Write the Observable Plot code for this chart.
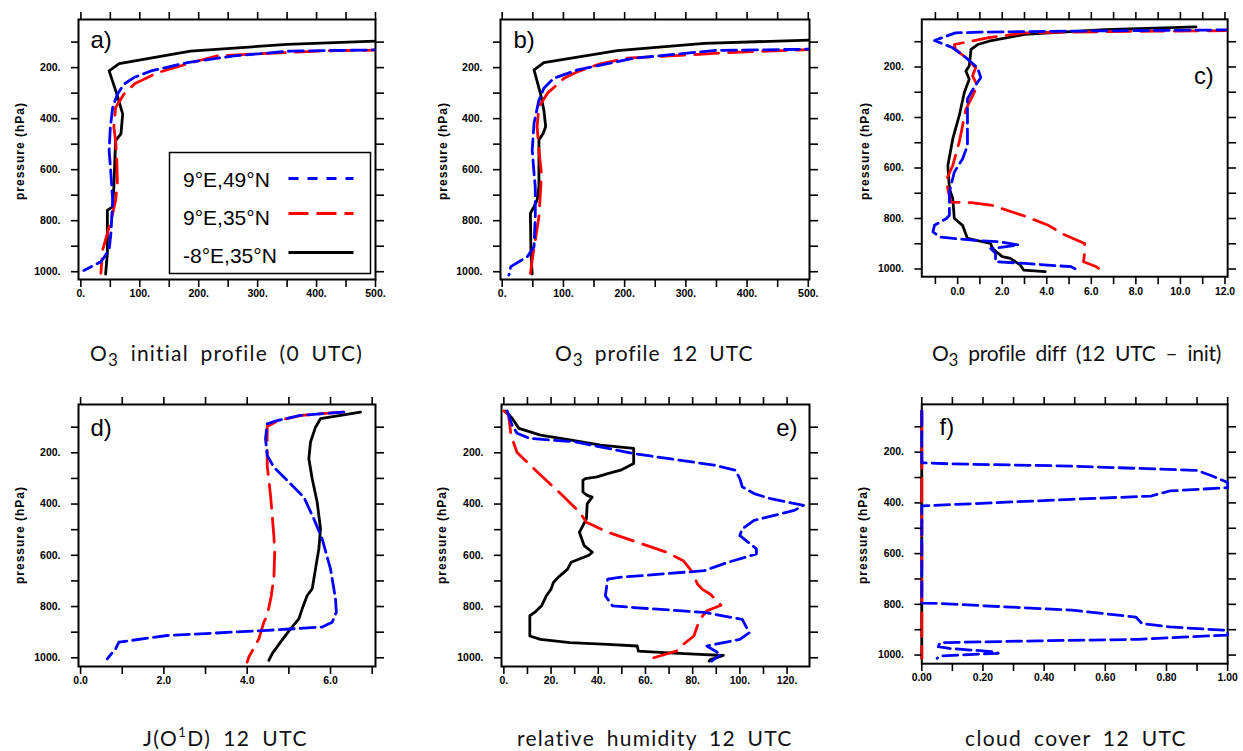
<!DOCTYPE html>
<html><head><meta charset="utf-8">
<script src="https://cdn.jsdelivr.net/npm/d3@7"></script>
<script src="https://cdn.jsdelivr.net/npm/@observablehq/plot@0.6"></script>
<style>
body{margin:0;background:#fff;}
#fig{position:relative;width:1243px;height:751px;overflow:hidden;background:#fff;}
.panel{position:absolute;}
</style></head>
<body><div id="fig"></div>
<script>
// ---------------- data ----------------
const seriesNames = ["9°E,49°N", "9°E,35°N", "-8°E,35°N"];
const seriesColors = ["#0000ff", "#ff0000", "#000000"];

// a) O3 initial profile (0 UTC)
const aBlueP = [130, 133, 135, 154, 180, 213, 239, 265, 304, 356, 434, 525, 616, 720, 850, 915, 961, 995];
const aBlueV = [520, 420, 356, 260, 181, 119, 90, 73, 62, 54, 50, 48, 51, 54, 51, 48, 34, 5];
const aRedP = [131, 134, 146, 154, 174, 220, 262, 304, 356, 434, 486, 564, 655, 720, 772, 850, 915, 1006];
const aRedV = [520, 420, 300, 232, 198, 130, 92, 73, 59, 56, 59, 61, 62, 59, 54, 45, 37, 34];
const aBlackP = [94, 96, 109, 135, 184, 213, 311, 382, 460, 486, 668, 746, 759, 928, 1009];
const aBlackV = [520, 500, 350, 186, 65, 48, 62, 71, 68, 59, 56, 54, 45, 45, 42];

// b) O3 profile 12 UTC
const bBlueP = [127, 133, 163, 209, 242, 281, 327, 418, 523, 614, 667, 784, 902, 941, 980, 1013];
const bBlueV = [520, 346, 215, 123, 84, 68, 60, 52, 49, 52, 54, 54, 52, 41, 14, 11];
const bRedP = [128, 140, 152, 163, 185, 216, 242, 300, 353, 431, 523, 614, 667, 784, 876, 954, 1009];
const bRedV = [520, 380, 290, 204, 160, 123, 101, 74, 60, 57, 60, 64, 63, 60, 54, 49, 46];
const bBlackP = [90, 92, 105, 133, 180, 209, 307, 366, 431, 457, 484, 667, 719, 745, 771, 928, 1009];
const bBlackV = [520, 502, 330, 188, 68, 52, 63, 68, 71, 67, 60, 60, 57, 52, 46, 47, 49];

// c) O3 profile diff (12 UTC - init)
const cBlueP = [53, 56, 59, 62, 65, 95, 124, 163, 203, 242, 281, 327, 459, 511, 564, 616, 695, 787, 800, 827, 853, 873, 886, 892, 905, 919, 938, 971, 978, 991, 1010];
const cBlueV = [12.3, 8.0, 4.0, 1.0, -0.1, -1.04, -0.22, 0.37, 0.89, 1.04, 0.74, 0.44, 0.44, 0.44, 0.22, -0.15, -0.37, -0.37, -0.5, -1.04, -1.11, -0.81, 0.67, 1.85, 2.74, 1.48, 1.7, 1.7, 3.04, 5.1, 5.48];
const cRedP = [56, 58, 62, 65, 84, 111, 130, 163, 203, 235, 275, 314, 367, 433, 498, 590, 649, 700, 735, 737, 748, 790, 827, 859, 899, 935, 971, 990, 1004, 1010];
const cRedV = [12.3, 9.0, 5.0, 3.0, 1.4, -0.15, -0.1, 0.37, 0.81, 0.67, 0.89, 0.67, 0.37, 0.22, 0.07, -0.22, -0.52, -0.4, -0.3, 0.6, 1.56, 3.0, 4.07, 4.67, 5.7, 5.7, 5.65, 6.2, 6.44, 6.55];
const cBlackP = [41, 52, 71, 98, 111, 130, 196, 216, 249, 301, 393, 485, 590, 682, 721, 800, 827, 879, 899, 919, 951, 958, 984, 1004, 1010];
const cBlackV = [10.7, 6.6, 3.0, 1.4, 0.9, 0.6, 0.52, 0.37, 0.52, 0.3, 0.07, -0.22, -0.44, -0.37, -0.22, -0.15, 0.22, 0.44, 1.48, 1.56, 2.0, 2.37, 2.81, 2.96, 3.93];

// d) J(O1D) 12 UTC
const dBlueP = [41, 54, 74, 87, 145, 210, 256, 321, 373, 458, 536, 653, 770, 822, 861, 880, 893, 913, 939, 965, 1004];
const dBlueV = [6.32, 5.28, 4.72, 4.48, 4.44, 4.48, 4.64, 5.04, 5.36, 5.6, 5.8, 6.0, 6.12, 6.14, 6.04, 5.8, 4.48, 2.08, 0.92, 0.84, 0.64];
const dRedP = [41, 54, 74, 97, 249, 366, 445, 523, 588, 692, 731, 757, 835, 861, 926, 997, 1017];
const dRedV = [6.3, 5.3, 4.75, 4.48, 4.48, 4.56, 4.6, 4.64, 4.66, 4.64, 4.6, 4.58, 4.48, 4.4, 4.28, 4.04, 4.0];
const dBlackP = [41, 67, 100, 158, 223, 301, 393, 497, 575, 653, 731, 757, 809, 848, 887, 939, 984, 1010];
const dBlackV = [6.72, 5.76, 5.64, 5.52, 5.48, 5.56, 5.68, 5.76, 5.72, 5.64, 5.56, 5.44, 5.32, 5.24, 5.04, 4.8, 4.6, 4.52];

// e) relative humidity 12 UTC
const eBlueP = [37, 92, 124, 144, 157, 203, 248, 268, 301, 333, 359, 379, 405, 425, 464, 497, 523, 575, 595, 627, 660, 686, 693, 758, 797, 804, 823, 850, 902, 928, 954, 987, 1013];
const eBlueV = [1.4, 3.5, 5.6, 11, 30, 55, 89, 98, 100, 101, 106, 113, 127, 123, 106, 101, 100, 107, 107, 95, 85, 49, 44, 43, 46, 55, 85, 101, 104, 100, 86, 92, 88];
const eRedP = [37, 52, 131, 199, 268, 359, 431, 471, 510, 549, 588, 621, 667, 712, 732, 752, 795, 817, 850, 915, 948, 974, 993, 1007];
const eRedV = [0, 2, 3, 5.6, 13.4, 24, 32, 35, 44, 56.5, 69, 76, 80, 82, 84, 87.5, 92, 86, 83, 80.5, 76, 73, 66, 61];
const eBlackP = [37, 65, 105, 131, 150, 170, 183, 242, 268, 281, 294, 301, 307, 353, 366, 373, 399, 457, 484, 510, 562, 588, 600, 627, 654, 686, 706, 732, 758, 797, 823, 836, 915, 928, 941, 948, 954, 974, 980, 987, 991, 1007, 1013];
const eBlackV = [0.7, 3.5, 6.4, 15.5, 28, 41, 55, 55, 49.5, 44, 39.5, 34.5, 33.5, 33.5, 35.3, 37.4, 35.3, 35, 33.5, 32, 34, 37.5, 36, 28.5, 27, 23, 21, 20, 18, 16, 13, 11, 11, 15.5, 28, 44, 56.5, 57, 68, 83, 93, 87.5, 87];

// f) cloud cover 12 UTC
const fBlueP = [37, 242, 246, 255, 272, 294, 320, 340, 353, 373, 386, 403, 412, 795, 797, 823, 850, 876, 889, 902, 908, 921, 938, 944, 951, 967, 974, 987, 993, 1004, 1013];
const fBlueV = [0, 0, 0.09, 0.49, 0.9, 0.95, 1.0, 1.0, 0.81, 0.75, 0.49, 0.17, 0, 0, 0.06, 0.49, 0.7, 0.72, 0.81, 0.99, 1.0, 1.0, 0.71, 0.38, 0.06, 0.054, 0.09, 0.24, 0.25, 0.06, 0.05];
const fRedP = [37, 200, 400, 600, 800, 1013];
const fRedV = [0, 0, 0, 0, 0, 0];
const fBlackP = [37, 200, 400, 600, 800, 1013];
const fBlackV = [0, 0, 0, 0, 0, 0];

// ticks and tick labels
const yTicks = [100, 200, 300, 400, 500, 600, 700, 800, 900, 1000];
const yLabelVals = [200, 400, 600, 800, 1000];
const yLabelText = ["200.", "400.", "600.", "800.", "1000."];
const abTicks = [0, 50, 100, 150, 200, 250, 300, 350, 400, 450, 500];
const abLabelVals = [0, 100, 200, 300, 400, 500];
const abLabelText = ["0.", "100.", "200.", "300.", "400.", "500."];
const cTicks = [-1, 0, 1, 2, 3, 4, 5, 6, 7, 8, 9, 10, 11, 12];
const cLabelVals = [0, 2, 4, 6, 8, 10, 12];
const cLabelText = ["0.0", "2.0", "4.0", "6.0", "8.0", "10.0", "12.0"];
const dTicks = [0, 1, 2, 3, 4, 5, 6, 7];
const dLabelVals = [0, 2, 4, 6];
const dLabelText = ["0.0", "2.0", "4.0", "6.0"];
const eTicks = [0, 10, 20, 30, 40, 50, 60, 70, 80, 90, 100, 110, 120];
const eLabelVals = [0, 20, 40, 60, 80, 100, 120];
const eLabelText = ["0.", "20.", "40.", "60.", "80.", "100.", "120."];
const fTicks = [0, 0.1, 0.2, 0.3, 0.4, 0.5, 0.6, 0.7, 0.8, 0.9, 1.0];
const fLabelVals = [0, 0.2, 0.4, 0.6, 0.8, 1.0];
const fLabelText = ["0.00", "0.20", "0.40", "0.60", "0.80", "1.00"];

const yAxisLabel = "pressure (hPa)";

// ---------------- drawing ----------------
const BLUE_DASH = "15,6", RED_DASH = "24,10";
const fig = document.getElementById("fig");
const ML = 70, MR = 16, MT = 14, MB = 28;

function mkSeries(bp, bv, rp, rv, kp, kv) {
  return [
    {p: kp, v: kv, color: seriesColors[2], dash: null},
    {p: rp, v: rv, color: seriesColors[1], dash: RED_DASH},
    {p: bp, v: bv, color: seriesColors[0], dash: BLUE_DASH}
  ];
}

function panel(cfg) {
  const W = cfg.w + ML + MR, H = cfg.h + MT + MB;
  const marks = [Plot.frame({stroke: "black", strokeWidth: 2})];
  cfg.series.forEach(s => {
    const data = s.p.map((p, i) => ({p, v: s.v[i]}));
    const o = {x: "v", y: "p", stroke: s.color, strokeWidth: 2.8, clip: cfg.clip};
    if (s.dash) o.strokeDasharray = s.dash;
    marks.push(Plot.line(data, o));
  });
  const xfmt = d => { const i = cfg.lv.findIndex(l => Math.abs(l - d) < 1e-9); return i >= 0 ? cfg.lt[i] : ""; };
  const yfmt = d => { const i = yLabelVals.indexOf(d); return i >= 0 ? yLabelText[i] : ""; };
  const right = cfg.tagAnchor.endsWith("right");
  marks.push(
    Plot.axisX({anchor: "bottom", ticks: cfg.ticks, tickFormat: xfmt, tickSize: 8, tickPadding: 2.5, label: null, strokeWidth: 1.6}),
    Plot.axisX({anchor: "top", ticks: cfg.ticks, tickFormat: () => "", tickSize: 8, label: null, strokeWidth: 1.6}),
    Plot.axisY({anchor: "left", ticks: yTicks, tickFormat: yfmt, tickSize: 7, tickPadding: 11, label: null, strokeWidth: 1.6}),
    Plot.axisY({anchor: "right", ticks: yTicks, tickFormat: () => "", tickSize: 8, label: null, strokeWidth: 1.6}),
    Plot.text([cfg.tag], {text: d => d, frameAnchor: cfg.tagAnchor, dx: cfg.tagDx, dy: cfg.tagDy,
      fontSize: 24, fontWeight: "normal", lineAnchor: "top", textAnchor: right ? "end" : "start"})
  );
  const svg = Plot.plot({
    width: W, height: H, marginLeft: ML, marginRight: MR, marginTop: MT, marginBottom: MB,
    x: {domain: cfg.xDomain}, y: {domain: cfg.yDomain, reverse: true},
    style: {fontFamily: '"Liberation Sans", Arial, sans-serif', fontSize: "10.5px", fontWeight: "bold", background: "transparent", overflow: "visible", color: "black"},
    marks
  });
  const div = document.createElement("div");
  div.className = "panel";
  div.style.left = (cfg.left - ML) + "px";
  div.style.top = (cfg.top - MT) + "px";
  div.appendChild(svg);
  fig.appendChild(div);
}

const topY = [11.4, 1030.5], botY = [11.5, 1034];

panel({left: 78, top: 19, w: 297, h: 260, xDomain: [-4, 500], yDomain: topY, ticks: abTicks, lv: abLabelVals, lt: abLabelText,
  series: mkSeries(aBlueP, aBlueV, aRedP, aRedV, aBlackP, aBlackV), clip: true, tag: "a)", tagAnchor: "top-left", tagDx: 12, tagDy: 11});
panel({left: 500, top: 19, w: 309, h: 260, xDomain: [-2.8, 502], yDomain: topY, ticks: abTicks, lv: abLabelVals, lt: abLabelText,
  series: mkSeries(bBlueP, bBlueV, bRedP, bRedV, bBlackP, bBlackV), clip: true, tag: "b)", tagAnchor: "top-left", tagDx: 13, tagDy: 11});
panel({left: 922, top: 19, w: 309, h: 260, xDomain: [-1.61, 12.12], yDomain: topY, ticks: cTicks, lv: cLabelVals, lt: cLabelText,
  series: mkSeries(cBlueP, cBlueV, cRedP, cRedV, cBlackP, cBlackV), clip: true, tag: "c)", tagAnchor: "top-right", tagDx: -14, tagDy: 48});
panel({left: 78, top: 404, w: 297, h: 262, xDomain: [-0.05, 7.08], yDomain: botY, ticks: dTicks, lv: dLabelVals, lt: dLabelText,
  series: mkSeries(dBlueP, dBlueV, dRedP, dRedV, dBlackP, dBlackV), clip: false, tag: "d)", tagAnchor: "top-left", tagDx: 12, tagDy: 14});
panel({left: 501, top: 404, w: 308, h: 262, xDomain: [-1.0, 129.5], yDomain: botY, ticks: eTicks, lv: eLabelVals, lt: eLabelText,
  series: mkSeries(eBlueP, eBlueV, eRedP, eRedV, eBlackP, eBlackV), clip: false, tag: "e)", tagAnchor: "top-right", tagDx: -12, tagDy: 14});
panel({left: 922, top: 404, w: 309, h: 262, xDomain: [0, 1], yDomain: botY, ticks: fTicks, lv: fLabelVals, lt: fLabelText,
  series: mkSeries(fBlueP, fBlueV, fRedP, fRedV, fBlackP, fBlackV), clip: false, tag: "f)", tagAnchor: "top-left", tagDx: 18, tagDy: 14});

// ---------------- overlay: titles, y labels, legend ----------------
const ov = d3.select("#fig").append("svg")
  .attr("width", 1243).attr("height", 751)
  .style("position", "absolute").style("left", "0px").style("top", "0px")
  .style("overflow", "visible");

const TITLE_FONT = 'Lato, "Noto Sans", "Liberation Sans", sans-serif';
const titles = [
  {parts: [["O", 0], ["3", 1], [" initial profile (0 UTC)", 0]], x: 90, y: 361, w: 273},
  {parts: [["O", 0], ["3", 1], [" profile 12 UTC", 0]], x: 555, y: 361, w: 198},
  {parts: [["O", 0], ["3", 1], [" profile diff (12 UTC \u2013 init)", 0]], x: 932, y: 361, w: 288},
  {parts: [["J(O", 0], ["1", -1], ["D) 12 UTC", 0]], x: 143, y: 746, w: 165},
  {parts: [["relative humidity 12 UTC", 0]], x: 517, y: 746, w: 276},
  {parts: [["cloud cover 12 UTC", 0]], x: 965, y: 746, w: 222}
];
titles.forEach(t => {
  const txt = ov.append("text").attr("x", t.x).attr("y", t.y)
    .style("font-family", TITLE_FONT).style("font-size", "21px").attr("fill", "#111")
    .style("word-spacing", "5px");
  let shift = 0;
  t.parts.forEach(([s, k]) => {
    const sp = txt.append("tspan").text(s);
    if (k === 1) { sp.attr("dy", 5).style("font-size", "17px"); shift = 5; }
    else if (k === -1) { sp.attr("dy", -9).style("font-size", "13px"); shift = -9; }
    else if (shift !== 0) { sp.attr("dy", -shift); shift = 0; }
  });
  const full = t.parts.map(p => p[0]).join("");
  const w0 = txt.node().getBBox().width;
  const ls = (t.w - w0) / full.length;
  txt.style("letter-spacing", ls + "px");
});

// y-axis labels
[[20, 151], [443, 151], [865, 151], [20, 535], [442, 535], [863, 535]].forEach(([x, y]) => {
  ov.append("text").attr("transform", `translate(${x},${y}) rotate(-90)`)
    .attr("text-anchor", "middle").attr("dominant-baseline", "central")
    .style("font-family", '"Liberation Sans", Arial, sans-serif').style("font-size", "12px")
    .style("font-weight", "bold").style("letter-spacing", "1px").text(yAxisLabel);
});

// legend in panel a
const lg = ov.append("g").attr("transform", "translate(169.5,152.5)");
lg.append("rect").attr("width", 201).attr("height", 121).attr("fill", "white").attr("stroke", "black").attr("stroke-width", 1.5);
const legDash = ["10,9", "20,8", null];
const legTextY = [34.5, 72, 110];
const legLineY = [26, 61, 100];
seriesNames.forEach((n, i) => {
  lg.append("text").attr("x", 13.5).attr("y", legTextY[i])
    .style("font-family", '"Liberation Sans", Arial, sans-serif').style("font-size", "21px").text(n);
  const ln = lg.append("line").attr("x1", 119).attr("x2", 184).attr("y1", legLineY[i]).attr("y2", legLineY[i])
    .attr("stroke", seriesColors[i]).attr("stroke-width", 3);
  if (legDash[i]) ln.attr("stroke-dasharray", legDash[i]);
});
</script>
</body></html>
